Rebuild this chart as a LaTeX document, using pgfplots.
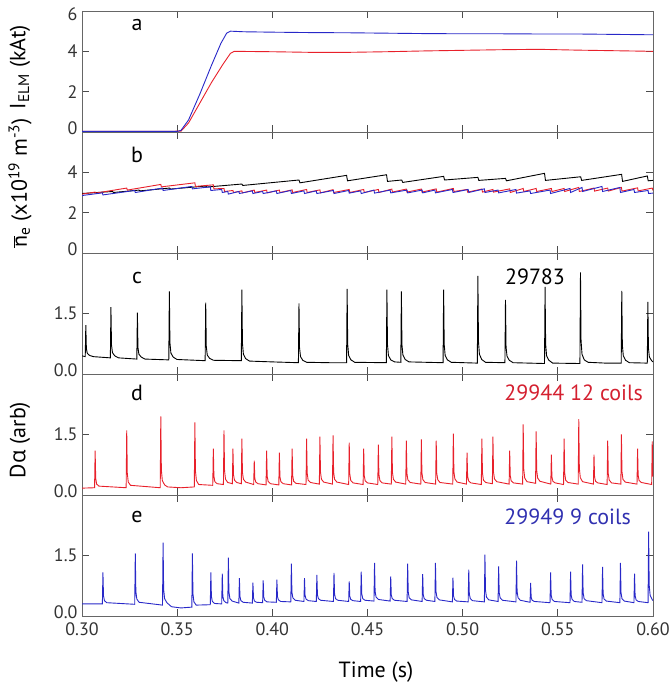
\documentclass[border=0pt]{standalone}
\usepackage{pgfplots}
\pgfplotsset{compat=1.18}
\usepackage{fontspec}
\setmainfont{PT Sans}
\newfontfamily\gr{Open Sans}
\definecolor{myred}{HTML}{E8202A}
\definecolor{myblue}{HTML}{2828C8}
\definecolor{txtred}{HTML}{D42030}
\definecolor{txtblue}{HTML}{3030B0}
\newcommand{\up}[1]{\raisebox{3.5pt}[\height][\depth]{#1}}
\newcommand{\dn}[1]{\raisebox{-3.5pt}[\height][\depth]{#1}}
\pgfplotsset{panel/.style={width=571pt,height=121pt,scale only axis,anchor=south west,
  xmin=0.3,xmax=0.6,xtick={0.3,0.35,0.4,0.45,0.5,0.55,0.6},xticklabels={},
  tick align=inside,major tick length=7pt,
  axis line style={draw=black!60,line width=0.8pt},
  tick style={draw=black!70,line width=0.8pt},
  every axis plot/.append style={line width=0.9pt},
  /pgf/number format/assume math mode=true,
  ticklabel style={font=\fontsize{18}{18}\selectfont,text=black!80},
  yticklabel style={xshift=-1pt},xticklabel style={yshift=-3pt}}}
\begin{document}
\begin{tikzpicture}
\useasboundingbox (0,0) rectangle (669pt,686pt);
% panel a
\begin{axis}[panel,at={(82pt,554pt)},ymin=0,ymax=6,ytick={0,2,4,6},yticklabels={\up{0},2,4,\dn{6}}]
\addplot[myred] coordinates {(0.300,0.03)(0.352,0.04)(0.356,0.45)(0.362,1.45)(0.368,2.45)(0.374,3.35)(0.378,3.9)(0.380,4.0)(0.40,3.98)(0.42,3.95)(0.44,3.95)(0.46,3.98)(0.48,4.02)(0.50,4.05)(0.52,4.08)(0.54,4.1)(0.56,4.06)(0.58,4.03)(0.60,4.0)};
\addplot[myblue] coordinates {(0.300,0.03)(0.350,0.03)(0.352,0.08)(0.356,0.6)(0.362,1.9)(0.368,3.3)(0.373,4.4)(0.376,4.9)(0.378,5.0)(0.385,4.97)(0.40,4.95)(0.42,4.93)(0.44,4.92)(0.46,4.9)(0.48,4.88)(0.50,4.87)(0.52,4.87)(0.54,4.86)(0.56,4.86)(0.58,4.84)(0.60,4.82)};
\end{axis}
% panel b
\begin{axis}[panel,at={(82pt,433pt)},ymin=0,ymax=6,ytick={0,2,4},yticklabels={\up{0},2,4}]
\addplot[black] coordinates {(0.300,2.95)(0.316,3.05)(0.3165,3.0)(0.330,3.12)(0.3305,3.08)(0.346,3.22)(0.3465,3.17)(0.365,3.32)(0.3655,3.27)(0.384,3.42)(0.3845,3.35)(0.414,3.62)(0.4145,3.48)(0.439,3.85)(0.4395,3.58)(0.460,3.88)(0.4605,3.55)(0.468,3.62)(0.4685,3.5)(0.490,3.8)(0.4905,3.62)(0.508,3.75)(0.5085,3.6)(0.5225,3.7)(0.523,3.58)(0.543,3.95)(0.5435,3.6)(0.562,3.78)(0.5625,3.6)(0.5835,3.9)(0.584,3.55)(0.597,3.82)(0.5975,3.58)(0.600,3.6)};
\addplot[myred] coordinates {(0.300,2.92)(0.3069,3.02)(0.3072,2.97)(0.3235,3.22)(0.3238,3.12)(0.3414,3.40)(0.3417,3.28)(0.3593,3.48)(0.3596,3.30)(0.3690,3.38)(0.3693,3.18)(0.3746,3.2)(0.3749,3.05)(0.3793,3.1)(0.3796,3.0)(0.3840,3.08)(0.3843,2.98)(0.3905,3.12)(0.3908,3.0)(0.3970,3.12)(0.3973,2.98)(0.4037,3.12)(0.404,3.0)(0.4104,3.13)(0.4107,3.0)(0.4180,3.15)(0.4183,3.0)(0.4250,3.13)(0.4253,2.98)(0.4319,3.14)(0.4322,3.0)(0.4404,3.15)(0.4407,3.0)(0.4480,3.15)(0.4483,3.0)(0.4557,3.15)(0.456,3.0)(0.4628,3.17)(0.4631,3.02)(0.4704,3.17)(0.4707,3.02)(0.4783,3.17)(0.4786,3.02)(0.4861,3.18)(0.4864,3.02)(0.4951,3.2)(0.4954,3.05)(0.5023,3.15)(0.5026,3.02)(0.5101,3.17)(0.5104,3.02)(0.5159,3.15)(0.5162,3.02)(0.5247,3.18)(0.525,3.0)(0.5318,3.2)(0.5321,3.05)(0.5386,3.2)(0.5389,3.05)(0.5466,3.2)(0.5469,3.05)(0.5533,3.2)(0.5536,3.05)(0.5610,3.25)(0.5613,3.05)(0.5690,3.22)(0.5693,3.07)(0.5762,3.22)(0.5765,3.07)(0.5834,3.25)(0.5837,3.07)(0.5919,3.23)(0.5922,3.08)(0.5996,3.22)(0.600,3.1)};
\addplot[myblue] coordinates {(0.300,2.85)(0.3107,2.98)(0.311,2.88)(0.3277,3.1)(0.328,3.0)(0.3423,3.22)(0.3426,3.1)(0.3577,3.3)(0.358,3.18)(0.3674,3.28)(0.3677,3.1)(0.3734,3.15)(0.3737,3.0)(0.3766,3.05)(0.3769,2.92)(0.3824,3.05)(0.3827,2.95)(0.3895,3.08)(0.3898,2.95)(0.3949,3.05)(0.3952,2.95)(0.4021,3.08)(0.4024,2.95)(0.4097,3.1)(0.41,2.95)(0.4166,3.08)(0.4169,2.95)(0.4231,3.08)(0.4234,2.95)(0.4321,3.1)(0.4324,2.95)(0.4401,3.1)(0.4404,2.97)(0.4464,3.08)(0.4467,2.95)(0.4534,3.12)(0.4537,2.97)(0.4619,3.12)(0.4622,2.98)(0.4708,3.12)(0.4711,2.98)(0.4787,3.12)(0.479,2.98)(0.4854,3.12)(0.4857,2.98)(0.4946,3.15)(0.4949,3.0)(0.5029,3.15)(0.5032,3.0)(0.5114,3.18)(0.5117,3.0)(0.5186,3.12)(0.5189,2.98)(0.528,3.15)(0.5283,2.97)(0.5354,3.08)(0.5357,2.95)(0.5459,3.12)(0.5462,2.95)(0.5564,3.2)(0.5567,3.0)(0.5627,3.25)(0.563,3.05)(0.5732,3.3)(0.5735,3.05)(0.5826,3.25)(0.5829,3.0)(0.59,3.15)(0.5903,3.0)(0.5974,3.1)(0.5977,2.95)(0.600,2.97)};
\end{axis}
% panel c
\begin{axis}[panel,at={(82pt,312pt)},ymin=0,ymax=3,ytick={0,1.5},yticklabels={\up{0.0},1.5}]
\addplot[black] coordinates {(0.300,0.45)(0.3017,0.43)(0.302,1.21)(0.3023,0.63)(0.3028,0.51)(0.304,0.46)(0.306,0.43)(0.3149,0.40)
(0.3152,1.66)(0.3155,0.72)(0.316,0.53)(0.3172,0.45)(0.3192,0.40)(0.3288,0.37)
(0.3291,1.52)(0.3294,0.66)(0.3299,0.49)(0.3311,0.42)(0.3331,0.37)(0.3456,0.35)
(0.3459,2.05)(0.3462,0.78)(0.3467,0.52)(0.3479,0.42)(0.3499,0.36)(0.3647,0.33)
(0.365,1.77)(0.3653,0.69)(0.3658,0.47)(0.367,0.39)(0.369,0.34)(0.3837,0.33)
(0.384,2.09)(0.3843,0.76)(0.3848,0.49)(0.386,0.38)(0.388,0.32)(0.40,0.30)(0.4137,0.28)
(0.414,1.75)(0.4143,0.65)(0.4148,0.43)(0.416,0.34)(0.418,0.29)(0.43,0.28)(0.439,0.28)
(0.4393,2.11)(0.4396,0.74)(0.4401,0.46)(0.4413,0.35)(0.4433,0.29)(0.4599,0.28)
(0.4602,2.09)(0.4605,0.73)(0.461,0.46)(0.4622,0.35)(0.4642,0.30)(0.4675,0.29)
(0.4678,2.05)(0.4681,0.73)(0.4686,0.47)(0.4698,0.36)(0.4718,0.30)(0.4897,0.28)
(0.490,2.09)(0.4903,0.73)(0.4908,0.46)(0.492,0.35)(0.494,0.29)(0.5077,0.27)
(0.508,2.43)(0.5083,0.81)(0.5088,0.49)(0.51,0.36)(0.512,0.29)(0.5222,0.28)
(0.5225,1.84)(0.5228,0.67)(0.5233,0.44)(0.5245,0.34)(0.5265,0.28)(0.543,0.26)
(0.5433,2.16)(0.5436,0.74)(0.5441,0.45)(0.5453,0.34)(0.5473,0.27)(0.5616,0.26)
(0.5619,2.52)(0.5622,0.83)(0.5627,0.49)(0.5639,0.35)(0.5659,0.29)(0.575,0.27)(0.5833,0.27)
(0.5836,2.06)(0.5839,0.72)(0.5844,0.45)(0.5856,0.34)(0.5876,0.28)(0.597,0.27)
(0.5973,1.79)(0.5976,0.65)(0.5981,0.42)(0.5993,0.33)(0.600,0.30)};
\end{axis}
% panel d
\begin{axis}[panel,at={(82pt,191pt)},ymin=0,ymax=3,ytick={0,1.5},yticklabels={\up{0.0},1.5}]
\addplot[myred] coordinates {(0.300,0.17)(0.3066,0.18)
(0.3069,1.10)(0.3072,0.41)(0.3077,0.27)(0.3089,0.22)(0.3232,0.18)
(0.3235,1.60)(0.3238,0.54)(0.3243,0.32)(0.3255,0.24)(0.3411,0.18)
(0.3414,1.95)(0.3417,0.62)(0.3422,0.36)(0.3434,0.25)(0.345,0.20)(0.352,0.18)(0.359,0.20)
(0.3593,1.80)(0.3596,0.60)(0.3601,0.36)(0.3613,0.26)(0.3687,0.24)
(0.3690,1.15)(0.3693,0.47)(0.3698,0.33)(0.371,0.28)(0.3743,0.26)
(0.3746,1.60)(0.3749,0.60)(0.3754,0.39)(0.3766,0.31)(0.379,0.28)
(0.3793,1.15)(0.3796,0.50)(0.3801,0.37)(0.3813,0.31)(0.3837,0.28)
(0.3840,1.40)(0.3843,0.56)(0.3848,0.39)(0.386,0.32)(0.3902,0.26)
(0.3905,0.85)(0.3908,0.41)(0.3913,0.32)(0.3925,0.28)(0.3967,0.25)
(0.3970,1.10)(0.3973,0.46)(0.3978,0.34)(0.399,0.28)(0.4034,0.25)
(0.4037,1.05)(0.404,0.45)(0.4045,0.33)(0.4057,0.28)(0.4101,0.25)
(0.4104,1.15)(0.4107,0.48)(0.4112,0.34)(0.4124,0.29)(0.4177,0.26)
(0.4180,1.40)(0.4183,0.55)(0.4188,0.37)(0.42,0.31)(0.4247,0.27)
(0.4250,1.45)(0.4253,0.57)(0.4258,0.39)(0.427,0.32)(0.4316,0.27)
(0.4319,1.48)(0.4322,0.57)(0.4327,0.39)(0.4339,0.32)(0.4401,0.26)
(0.4404,1.30)(0.4407,0.52)(0.4412,0.36)(0.4424,0.30)(0.4477,0.26)
(0.4480,1.15)(0.4483,0.48)(0.4488,0.35)(0.45,0.30)(0.4554,0.26)
(0.4557,1.25)(0.456,0.51)(0.4565,0.36)(0.4577,0.30)(0.4625,0.27)
(0.4628,1.45)(0.4631,0.57)(0.4636,0.39)(0.4648,0.32)(0.4701,0.27)
(0.4704,1.35)(0.4707,0.54)(0.4712,0.38)(0.4724,0.31)(0.478,0.27)
(0.4783,1.38)(0.4786,0.55)(0.4791,0.38)(0.4803,0.31)(0.4858,0.27)
(0.4861,1.35)(0.4864,0.54)(0.4869,0.38)(0.4881,0.31)(0.4948,0.27)
(0.4951,1.52)(0.4954,0.58)(0.4959,0.40)(0.4971,0.32)(0.502,0.27)
(0.5023,1.05)(0.5026,0.47)(0.5031,0.35)(0.5043,0.30)(0.5098,0.26)
(0.5101,1.40)(0.5104,0.55)(0.5109,0.37)(0.5121,0.31)(0.5156,0.28)
(0.5159,1.45)(0.5162,0.57)(0.5167,0.40)(0.5179,0.33)(0.5244,0.27)
(0.5247,1.10)(0.525,0.48)(0.5255,0.35)(0.5267,0.30)(0.5315,0.27)
(0.5318,1.75)(0.5321,0.64)(0.5326,0.42)(0.5338,0.33)(0.5383,0.29)
(0.5386,1.58)(0.5389,0.61)(0.5394,0.42)(0.5406,0.34)(0.5463,0.27)
(0.5466,1.00)(0.5469,0.45)(0.5474,0.34)(0.5486,0.30)(0.553,0.26)
(0.5533,1.40)(0.5536,0.55)(0.5541,0.37)(0.5553,0.31)(0.5607,0.27)
(0.5610,1.88)(0.5613,0.67)(0.5618,0.43)(0.563,0.33)(0.5687,0.27)
(0.5690,1.00)(0.5693,0.45)(0.5698,0.34)(0.571,0.30)(0.5759,0.26)
(0.5762,1.35)(0.5765,0.53)(0.577,0.37)(0.5782,0.30)(0.5831,0.27)
(0.5834,1.50)(0.5837,0.58)(0.5842,0.39)(0.5854,0.32)(0.5916,0.27)
(0.5919,1.15)(0.5922,0.49)(0.5927,0.36)(0.5939,0.31)(0.5993,0.26)
(0.5996,1.33)(0.5999,0.53)(0.600,0.45)};
\end{axis}
% panel e
\begin{axis}[panel,at={(82pt,70pt)},ymin=0,ymax=3,ytick={0,1.5},yticklabels={\up{0.0},1.5},
  xticklabels={0.30,0.35,0.40,0.45,0.50,0.55,0.60}]
\addplot[myblue] coordinates {(0.300,0.30)(0.3107,0.30)
(0.3110,1.08)(0.3113,0.50)(0.3118,0.38)(0.313,0.33)(0.3277,0.29)
(0.3280,1.55)(0.3283,0.61)(0.3288,0.42)(0.33,0.34)(0.3423,0.27)
(0.3426,1.82)(0.3429,0.66)(0.3434,0.43)(0.3446,0.33)(0.347,0.23)(0.352,0.20)(0.3577,0.22)
(0.3580,1.55)(0.3583,0.55)(0.3588,0.35)(0.36,0.27)(0.3674,0.28)
(0.3677,1.08)(0.368,0.48)(0.3685,0.36)(0.3697,0.31)(0.3734,0.30)
(0.3737,1.05)(0.374,0.49)(0.3745,0.38)(0.3757,0.33)(0.3766,0.32)
(0.3769,1.45)(0.3772,0.60)(0.3777,0.43)(0.3789,0.37)(0.3824,0.32)
(0.3827,0.94)(0.383,0.48)(0.3835,0.38)(0.3847,0.34)(0.3895,0.32)
(0.3898,0.83)(0.3901,0.45)(0.3906,0.37)(0.3918,0.34)(0.3949,0.33)
(0.3952,0.88)(0.3955,0.47)(0.396,0.39)(0.3972,0.35)(0.4021,0.34)
(0.4024,0.90)(0.4027,0.48)(0.4032,0.40)(0.4044,0.36)(0.4097,0.35)
(0.4100,1.30)(0.4103,0.59)(0.4108,0.45)(0.412,0.39)(0.4166,0.36)
(0.4169,0.94)(0.4172,0.51)(0.4177,0.42)(0.4189,0.38)(0.4231,0.36)
(0.4234,1.02)(0.4237,0.53)(0.4242,0.43)(0.4254,0.39)(0.4321,0.36)
(0.4324,1.07)(0.4327,0.54)(0.4332,0.43)(0.4344,0.39)(0.4401,0.36)
(0.4404,0.86)(0.4407,0.49)(0.4412,0.41)(0.4424,0.38)(0.4464,0.36)
(0.4467,1.10)(0.447,0.55)(0.4475,0.43)(0.4487,0.39)(0.4534,0.37)
(0.4537,1.32)(0.454,0.61)(0.4545,0.47)(0.4557,0.41)(0.4619,0.37)
(0.4622,0.98)(0.4625,0.52)(0.463,0.43)(0.4642,0.39)(0.4708,0.36)
(0.4711,1.30)(0.4714,0.60)(0.4719,0.45)(0.4731,0.40)(0.4787,0.36)
(0.4790,1.04)(0.4793,0.53)(0.4798,0.43)(0.481,0.39)(0.4854,0.36)
(0.4857,1.32)(0.486,0.60)(0.4865,0.46)(0.4877,0.40)(0.4946,0.35)
(0.4949,0.95)(0.4952,0.50)(0.4957,0.41)(0.4969,0.37)(0.5029,0.35)
(0.5032,1.15)(0.5035,0.55)(0.504,0.43)(0.5052,0.38)(0.5114,0.35)
(0.5117,1.52)(0.512,0.64)(0.5125,0.47)(0.5137,0.40)(0.5186,0.36)
(0.5189,1.23)(0.5192,0.58)(0.5197,0.45)(0.5209,0.39)(0.528,0.35)
(0.5283,1.37)(0.5286,0.61)(0.5291,0.45)(0.5303,0.39)(0.5354,0.34)
(0.5357,0.82)(0.536,0.46)(0.5365,0.39)(0.5377,0.36)(0.5459,0.33)
(0.5462,1.08)(0.5465,0.52)(0.547,0.41)(0.5482,0.36)(0.5564,0.33)
(0.5567,1.10)(0.557,0.52)(0.5575,0.41)(0.5587,0.36)(0.5627,0.34)
(0.5630,1.28)(0.5633,0.58)(0.5638,0.43)(0.565,0.38)(0.5732,0.33)
(0.5735,1.22)(0.5738,0.55)(0.5743,0.42)(0.5755,0.37)(0.5826,0.33)
(0.5829,1.32)(0.5832,0.58)(0.5837,0.43)(0.5849,0.37)(0.59,0.33)
(0.5903,1.05)(0.5906,0.51)(0.5911,0.40)(0.5923,0.36)(0.5974,0.33)
(0.5977,2.09)(0.598,0.77)(0.5985,0.51)(0.5997,0.40)(0.600,0.38)};
\end{axis}
% texts
\begin{scope}[every node/.style={font=\fontsize{22}{22}\selectfont,inner sep=0pt}]
\node at (137pt,661pt) {a};
\node at (137pt,531pt) {b};
\node at (137pt,408pt) {c};
\node at (137pt,293pt) {d};
\node at (137pt,169pt) {e};
\node at (535pt,409pt) {29783};
\node[anchor=east,text=txtred] at (643pt,293pt) {29944 12 coils};
\node[anchor=east,text=txtblue] at (631pt,169pt) {29949 9 coils};
\node at (376pt,14pt) {Time (s)};
\node[rotate=90] at (20pt,619pt) {I\textsubscript{ELM} (kAt)};
\node[rotate=90] at (20pt,503pt) {\(\overline{\hbox{n}}\)\textsubscript{e} (x10\textsuperscript{19} m\textsuperscript{-3})};
\node[rotate=90] at (20pt,246pt) {D{\gr α} (arb)};
\end{scope}
\end{tikzpicture}
\end{document}
